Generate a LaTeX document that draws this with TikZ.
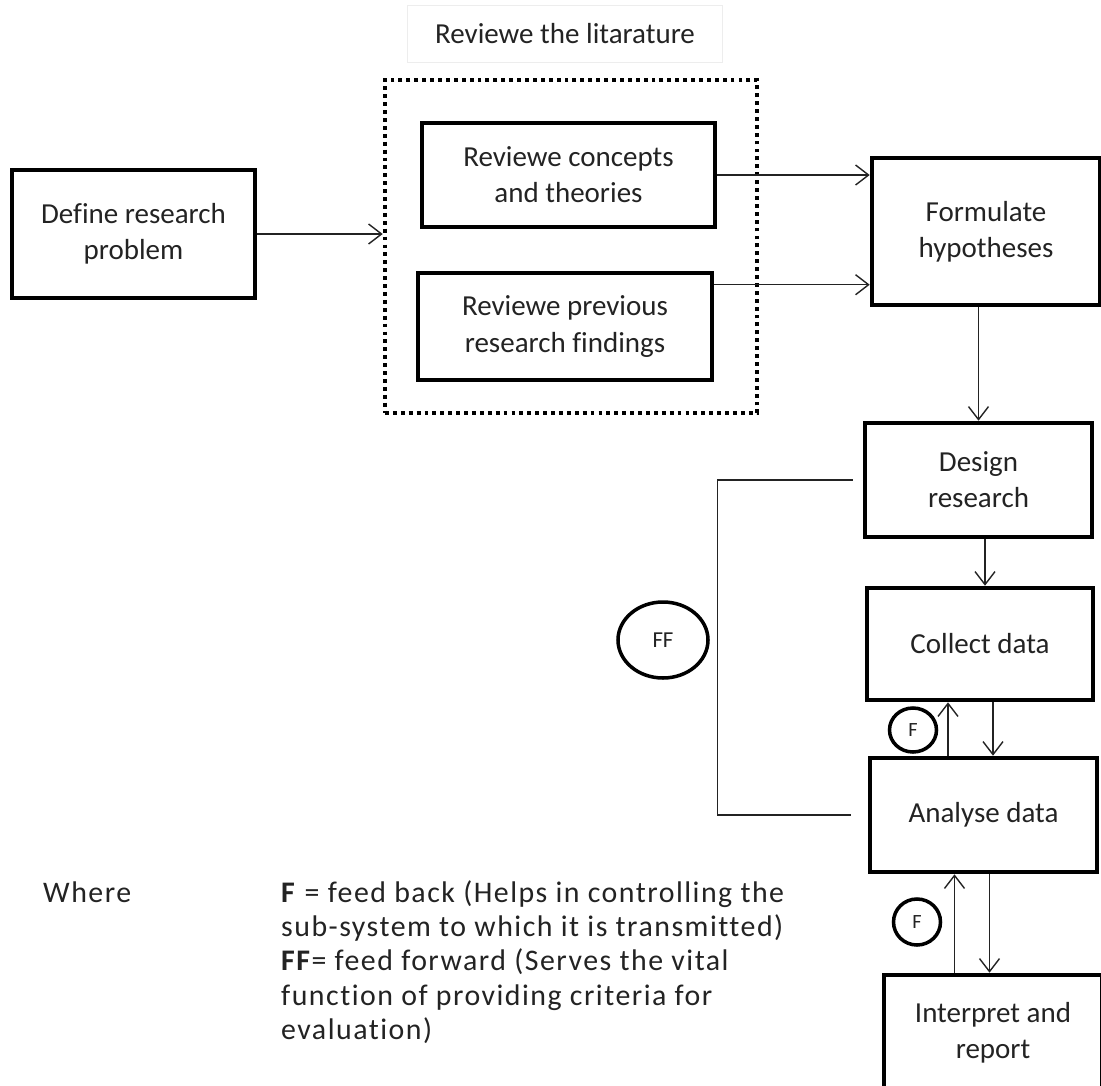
\documentclass[tikz,border=0pt]{standalone}
\usepackage{fontspec}
\setmainfont{Carlito}[Ligatures=NoCommon]
\newfontfamily\legendfont{Carlito}[LetterSpace=5,Ligatures=NoCommon]
\usetikzlibrary{arrows.meta,positioning,shapes.geometric}
\definecolor{ink}{RGB}{35,35,35}
\tikzset{
  >={Straight Barb[length=2.6mm,width=4mm]},
  box/.style={draw=black,line width=2.6pt,align=center,text=ink,
    font=\fontsize{16.5}{20.5}\selectfont},
  flow/.style={->,draw=ink,line width=0.8pt},
  link/.style={draw=ink,line width=0.8pt},
  dotbox/.style={draw=black,line width=2.6pt,dash pattern=on 2.2pt off 2.3pt},
  mark circle/.style={ellipse,draw=black,line width=2pt,inner sep=0pt,text=ink},
  tag/.style={font=\legendfont\fontsize{17}{19.6}\selectfont,text=ink,align=left},
}
\begin{document}
\begin{tikzpicture}
    \useasboundingbox (0,0) rectangle (22.02,-21.7);
    % literature group
    \node[draw=black!7,line width=0.5pt,minimum width=6.3cm,minimum height=1.14cm,
      font=\fontsize{16.5}{20.5}\selectfont,text=ink] (littitle) at (11.3,-0.67) {Reviewe the litarature};
    \node[dotbox,minimum width=7.44cm,minimum height=6.66cm] (litbox) at (11.42,-4.93) {};
    \node[box,minimum width=5.86cm,minimum height=2.08cm] (concepts) at (11.37,-3.5) {Reviewe concepts\\and theories};
    \node[box,minimum width=5.88cm,minimum height=2.14cm] (previous) at (11.3,-6.53) {Reviewe previous\\research findings};
    % main chain
    \node[box,minimum width=4.86cm,minimum height=2.56cm] (define) at (2.67,-4.68) {Define research\\problem};
    \node[box,minimum width=4.56cm,minimum height=2.94cm] (hypo) at (19.72,-4.63) {Formulate\\hypotheses};
    \node[box,minimum width=4.54cm,minimum height=2.28cm] (design) at (19.57,-9.6) {Design\\research};
    \node[box,minimum width=4.52cm,minimum height=2.24cm] (collect) at (19.6,-12.88) {Collect data};
    \node[box,minimum width=4.54cm,minimum height=2.28cm] (analyse) at (19.67,-16.3) {Analyse data};
    \node[box,minimum width=4.36cm,minimum height=2.3cm] (interpret) at (19.86,-20.65) {Interpret and\\report};
    % markers
    \node[mark circle,minimum width=1.8cm,minimum height=1.52cm,font=\fontsize{13}{15}\selectfont] (ff) at (13.26,-12.8) {FF};
    \node[mark circle,minimum width=0.94cm,minimum height=0.88cm,font=\fontsize{11.5}{13}\selectfont] (fa) at (18.26,-14.6) {F};
    \node[mark circle,minimum width=0.94cm,minimum height=0.92cm,font=\fontsize{11.5}{13}\selectfont] (fb) at (18.34,-18.44) {F};
    % connectors
    \draw[flow] (define.east) -- (define.east -| litbox.west);
    \draw[flow] (concepts.east) -- (concepts.east -| hypo.west);
    \draw[flow] ([yshift=-0.28cm]previous.north east) -- ([yshift=-0.28cm]previous.north east -| hypo.west);
    \draw[flow] (design.north |- hypo.south) -- (design.north);
    \coordinate (dc) at ([xshift=0.13cm]design.south);
    \draw[flow] (dc) -- (dc |- collect.north);
    \coordinate (up1) at ([xshift=-0.64cm]collect.south);
    \coordinate (dn1) at ([xshift=0.26cm]collect.south);
    \draw[flow] (up1 |- analyse.north) -- (up1);
    \draw[flow] (dn1) -- (dn1 |- analyse.north);
    \coordinate (up2) at ([xshift=-0.58cm]analyse.south);
    \coordinate (dn2) at ([xshift=0.12cm]analyse.south);
    \draw[flow] (up2 |- interpret.north) -- (up2);
    \draw[flow] (dn2) -- (dn2 |- interpret.north);
    \draw[link] ([xshift=-0.2cm]design.west) -- ++(-2.7,0) |- ([xshift=-0.34cm]analyse.west);
    % legend
    \node[tag,anchor=west] (where) at (0.74,-17.84) {Where};
    \node[tag,anchor=north west] (legend) at (5.5,-17.48)
      {\textbf{F} = feed back (Helps in controlling the\\
       sub-system to which it is transmitted)\\
       \textbf{FF}= feed forward (Serves the vital\\
       function of providing criteria for\\
       evaluation)};
\end{tikzpicture}
\end{document}
